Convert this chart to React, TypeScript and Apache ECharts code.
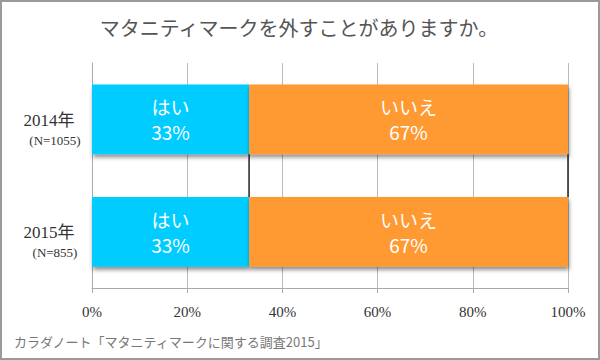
import React, { useEffect, useRef } from "react";
import * as echarts from "echarts";

const years = ["2014年", "2015年"];
const sampleSizes = ["(N=1055)", "(N=855)"];
const yesValues = [33, 33];
const noValues = [67, 67];
const xTicks = [0, 20, 40, 60, 80, 100];
const seriesLineValues = [33, 100];

const TITLE = "マタニティマークを外すことがありますか。";
const SOURCE = "カラダノート「マタニティマークに関する調査2015」";

const SERIF = '"Liberation Serif", "DejaVu Serif", "Noto Sans CJK JP", serif';
const SANS = '"Noto Sans CJK JP", "Noto Sans", sans-serif';

export default function App() {
  const ref = useRef<HTMLDivElement>(null);
  useEffect(() => {
    if (!ref.current) return;
    const chart = echarts.init(ref.current, null, { renderer: "svg" });
    const barWidthRatio = 0.62;
    const shadow = {
      shadowColor: "rgba(0,0,0,0.45)",
      shadowBlur: 4,
      shadowOffsetX: 1,
      shadowOffsetY: 3,
    };
    const label = {
      show: true,
      position: "inside",
      color: "#ffffff",
      fontFamily: SANS,
      fontSize: 19,
      lineHeight: 25,
      formatter: (p: any) => `${p.seriesName}\n${p.value}%`,
    };
    chart.setOption({
      animation: false,
      backgroundColor: "#ffffff",
      title: {
        text: TITLE,
        left: 294,
        textAlign: "center",
        top: 14,
        textStyle: {
          fontFamily: SERIF,
          fontSize: 20,
          fontWeight: "normal",
          color: "#555555",
        },
      },
      graphic: [
        {
          type: "rect",
          shape: { x: 1, y: 1, width: 598, height: 358 },
          style: { fill: "none", stroke: "#9a9a9a", lineWidth: 2 },
          silent: true,
        },
        {
          type: "text",
          left: 14,
          top: 335,
          style: {
            text: SOURCE,
            font: `13px ${SANS}`,
            fill: "#777777",
          },
        },
      ],
      grid: { left: 92, right: 32, top: 63, bottom: 72, containLabel: false },
      xAxis: {
        type: "value",
        min: 0,
        max: 100,
        interval: 20,
        axisLine: { show: true, lineStyle: { color: "#aaaaaa", width: 1 } },
        axisTick: { show: true, length: 5, lineStyle: { color: "#aaaaaa" } },
        splitLine: { show: true, lineStyle: { color: "#bbbbbb", width: 1 } },
        axisLabel: {
          margin: 16,
          fontFamily: SERIF,
          fontSize: 15,
          color: "#333333",
          formatter: (v: number) => (xTicks.includes(v) ? `${v}%` : ""),
        },
      },
      yAxis: {
        type: "category",
        inverse: true,
        data: years,
        axisLine: { show: true, lineStyle: { color: "#aaaaaa" } },
        axisTick: { show: false },
        axisLabel: {
          margin: 40,
          align: "center",
          formatter: (v: string, i: number) =>
            `{s| }\n{a|${v}}\n{b|${sampleSizes[i]}}`,
          rich: {
            s: { fontSize: 10, lineHeight: 22 },
            a: {
              fontFamily: SERIF,
              fontSize: 17,
              color: "#333333",
              lineHeight: 20,
              padding: [0, 6, 0, 0],
            },
            b: {
              fontFamily: SERIF,
              fontSize: 13,
              color: "#333333",
              lineHeight: 20,
              padding: [0, 0, 0, 6],
            },
          },
        },
      },
      series: [
        {
          name: "はい",
          type: "bar",
          stack: "total",
          data: yesValues,
          barWidth: `${barWidthRatio * 100}%`,
          itemStyle: { color: "#00CCFF", ...shadow },
          label,
        },
        {
          name: "いいえ",
          type: "bar",
          stack: "total",
          data: noValues,
          barWidth: `${barWidthRatio * 100}%`,
          itemStyle: { color: "#FF9933", ...shadow },
          label,
        },
        {
          type: "custom",
          name: "seriesLines",
          data: seriesLineValues.map((v) => [v, 0]),
          encode: { x: 0, y: 1 },
          z: 5,
          renderItem: (params: any, api: any) => {
            const x = api.value(0);
            const c = api.value(1);
            const p0 = api.coord([x, c]);
            const p1 = api.coord([x, c + 1]);
            const half = (api.size([0, 1])[1] * barWidthRatio) / 2;
            return {
              type: "line",
              shape: { x1: p0[0], y1: p0[1] + half, x2: p1[0], y2: p1[1] - half },
              style: { stroke: "#222222", lineWidth: 1.5 },
            };
          },
        },
      ],
    });
    return () => chart.dispose();
  }, []);
  return (
    <div
      ref={ref}
      style={{ position: "absolute", left: 0, top: 0, width: 600, height: 360 }}
    />
  );
}
